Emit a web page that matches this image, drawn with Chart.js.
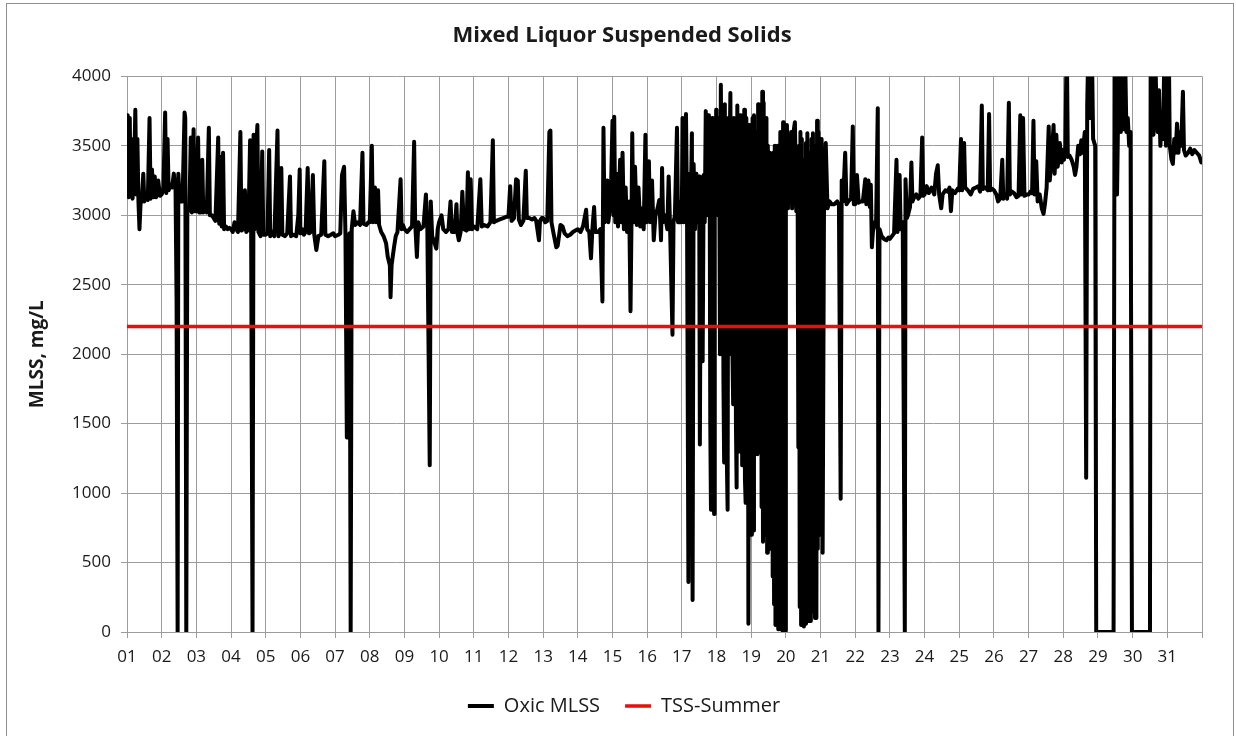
<!DOCTYPE html>
<html>
<head>
<meta charset="utf-8">
<title>Mixed Liquor Suspended Solids</title>
<script src="https://cdn.jsdelivr.net/npm/chart.js@4.4.0/dist/chart.umd.min.js"></script>
<style>
  html, body { margin: 0; padding: 0; background: #fff; }
  #wrap { width: 1236px; height: 736px; }
</style>
</head>
<body>
<div id="wrap"><canvas id="mlssChart" width="1236" height="736"></canvas></div>
<script>
// chart text
const chartTitle = "Mixed Liquor Suspended Solids";
const yAxisTitle = "MLSS, mg/L";
const dayLabels = ["01","02","03","04","05","06","07","08","09","10","11","12","13","14","15","16",
  "17","18","19","20","21","22","23","24","25","26","27","28","29","30","31"];

// TSS-Summer limit, mg/L
const tssSummer = 2200;
const tssDays = [1, 32];

// sample time (day of month, fractional) and Oxic MLSS reading (mg/L)
const sampleDays = [
  1.00,1.02,1.05,1.08,1.10,1.13,1.16,1.20,1.24,1.27,1.30,1.33,1.36,1.39,1.43,1.47,1.50,1.55,1.60,1.65,1.68,1.72,1.76,1.80,1.84,1.90,1.95,
  2.00,2.05,2.10,2.13,2.17,2.20,2.25,2.30,2.35,2.40,2.43,2.46,2.48,2.52,2.60,2.66,2.68,2.71,2.74,2.80,2.84,2.87,2.92,2.95,
  3.00,3.05,3.08,3.13,3.17,3.20,3.25,3.30,3.36,3.39,3.45,3.50,3.55,3.63,3.66,3.70,3.73,3.77,3.80,3.85,3.90,3.95,
  4.00,4.05,4.10,4.15,4.20,4.27,4.30,4.35,4.40,4.44,4.50,4.55,4.58,4.62,4.65,4.68,4.72,4.76,4.79,4.85,4.90,4.93,
  5.00,5.05,5.10,5.13,5.20,5.25,5.34,5.37,5.45,5.48,5.55,5.62,5.70,5.73,5.80,5.88,5.94,5.98,
  6.00,6.05,6.10,6.15,6.21,6.25,6.30,6.36,6.40,6.46,6.52,6.60,6.69,6.72,6.80,6.88,6.95,
  7.00,7.10,7.15,7.20,7.26,7.30,7.34,7.37,7.42,7.45,7.48,7.53,7.58,7.65,7.72,7.79,7.82,7.90,7.96,
  8.00,8.06,8.09,8.15,8.18,8.24,8.27,8.33,8.40,8.47,8.52,8.58,8.60,8.63,8.70,8.75,8.80,8.89,8.92,8.96,
  9.00,9.08,9.15,9.22,9.28,9.31,9.36,9.40,9.46,9.55,9.62,9.66,9.73,9.76,9.80,9.87,9.92,9.96,
  10.00,10.07,10.12,10.20,10.27,10.33,10.37,10.45,10.50,10.53,10.57,10.62,10.67,10.72,10.79,10.83,10.86,10.91,10.95,
  11.00,11.10,11.19,11.23,11.30,11.40,11.48,11.55,11.58,11.65,11.75,11.85,11.95,
  12.00,12.05,12.09,12.16,12.22,12.27,12.30,12.36,12.43,12.50,12.53,12.60,12.68,12.75,12.80,12.88,12.91,12.96,
  13.00,13.06,13.12,13.18,13.21,13.24,13.30,13.38,13.42,13.50,13.56,13.62,13.70,13.78,13.86,13.93,
  14.00,14.08,14.15,14.24,14.27,14.33,14.38,14.42,14.47,14.50,14.58,14.65,14.71,14.74,14.77,14.85,14.88,14.95,
  15.00,15.03,15.05,15.08,15.12,15.16,15.22,15.25,15.29,15.33,15.38,15.42,15.48,15.52,15.55,15.57,15.60,15.65,15.70,15.75,15.80,15.86,15.90,15.95,15.98,
  16.00,16.05,16.08,16.14,16.19,16.24,16.30,16.35,16.40,16.43,16.46,16.52,16.58,16.62,16.66,16.73,16.76,16.80,16.86,16.89,16.93,16.97,
  17.00,17.02,17.05,17.08,17.12,17.15,17.19,17.22,17.25,17.29,17.31,17.34,17.38,17.42,17.46,17.50,17.52,17.55,17.58,17.60,17.63,17.66,17.69,17.72,17.76,
  17.78,17.80,17.82,17.84,17.85,17.86,17.875,17.89,17.905,17.92,17.93,17.945,17.96,17.975,17.99,
  18.00,18.025,18.05,18.075,18.10,18.125,18.15,18.175,
  18.20,18.22,18.24,18.26,18.28,18.30,18.32,18.34,18.36,18.38,
  18.40,18.42,18.44,18.46,18.48,18.50,18.52,18.54,18.56,18.58,
  18.60,18.62,18.64,18.66,18.68,18.70,18.72,18.74,18.76,18.78,
  18.80,18.82,18.84,18.86,18.88,18.90,18.92,18.94,18.96,18.98,
  19.00,19.02,19.04,19.06,19.08,19.10,19.12,19.14,19.16,19.18,
  19.20,19.22,19.24,19.26,19.28,19.30,19.32,19.34,19.36,19.38,
  19.40,19.42,19.44,19.46,19.48,19.50,19.52,19.54,19.56,19.58,
  19.60,19.62,19.64,19.66,19.68,19.70,19.72,19.74,19.76,19.78,
  19.80,19.82,19.84,19.86,19.88,19.90,19.92,19.94,19.96,19.98,
  20.00,20.03,20.06,20.09,20.12,20.15,20.18,20.22,20.26,20.30,20.34,
  20.36,20.38,20.40,20.42,20.44,20.46,20.48,20.50,20.52,20.54,
  20.56,20.58,20.60,20.62,20.64,20.66,20.68,20.70,20.72,20.74,
  20.76,20.78,20.80,20.82,20.84,20.86,20.88,20.90,20.92,20.94,
  20.96,20.98,
  21.00,21.03,21.06,21.10,21.15,21.20,21.26,21.32,21.40,21.48,21.53,21.58,21.61,21.65,21.71,21.75,21.80,21.88,21.93,21.96,
  22.00,22.05,22.10,22.15,22.22,22.29,22.32,22.38,22.42,22.45,22.48,22.51,22.56,22.60,22.65,22.67,22.70,22.76,22.83,22.90,22.96,
  23.00,23.06,23.12,23.19,23.22,23.28,23.31,23.37,23.43,23.45,23.49,23.52,23.58,23.62,23.65,23.70,23.76,23.82,23.88,23.93,23.96,
  24.00,24.06,24.12,24.20,24.28,24.33,24.38,24.42,24.48,24.52,24.60,24.67,24.72,24.76,24.80,24.88,24.95,
  25.00,25.05,25.08,25.14,25.17,25.25,25.33,25.40,25.48,25.55,25.60,25.65,25.68,25.75,25.82,25.86,25.89,25.95,
  26.00,26.07,26.12,26.18,26.24,26.27,26.32,26.38,26.43,26.46,26.52,26.58,26.65,26.71,26.76,26.79,26.84,26.88,26.95,
  27.00,27.05,27.10,27.14,27.17,27.22,27.26,27.32,27.38,27.43,27.47,27.52,27.58,27.61,27.66,27.72,27.75,27.80,27.84,27.90,27.95,27.98,
  28.02,28.06,28.10,28.13,28.18,28.24,28.30,28.34,28.38,28.43,28.48,28.52,28.56,28.62,28.66,28.69,28.73,28.77,28.82,28.86,28.92,28.95,
  29.20,29.45,29.48,29.52,29.55,29.58,29.62,29.66,29.70,29.74,29.78,29.82,29.86,29.90,29.94,29.98,30.25,30.50,
  30.52,30.56,30.60,30.64,30.68,30.72,30.76,30.80,30.84,30.88,30.92,30.96,
  31.00,31.04,31.07,31.12,31.16,31.20,31.24,31.28,31.32,31.36,31.40,31.45,31.48,31.53,31.60,31.66,31.72,31.78,31.85,31.92,31.98
];
const oxicMlss = [
  3150,3720,3130,3700,3200,3550,3120,3250,3760,3150,3550,3100,2900,3080,3120,3300,3100,3150,3110,3700,3120,3330,3130,3280,3130,3250,3140,
  3150,3200,3740,3160,3550,3180,3220,3200,3300,3180,2380,0,3300,3100,3100,3740,3700,0,3020,3050,3560,3020,3620,3030,
  3030,3560,3020,3020,3400,3020,3050,3020,3630,3000,3000,2980,2960,3560,2940,3420,2920,3450,2900,2920,2900,2910,
  2900,2880,2950,2900,2880,3600,2890,2900,3180,2880,2900,3540,2900,0,3580,2900,3450,3650,2880,2850,3460,2860,
  2860,2870,3470,2850,2880,2850,3610,2850,3340,2860,2850,2870,3280,2850,2860,2850,3000,3330,
  2870,2900,2860,2880,3340,2870,2880,3290,2860,2750,2850,2860,3390,2860,2850,2860,2870,
  2850,2860,2870,3290,3350,2860,1400,2850,2870,0,2900,3030,2930,2950,2930,3450,2940,2930,2950,
  2950,3500,2950,3200,2950,3180,2930,2880,2850,2800,2700,2640,2410,2640,2770,2850,2880,3260,2900,2930,
  2900,2880,2900,2920,3530,2950,2700,2950,2900,2920,3150,2930,1200,3100,2850,2800,2760,2900,
  2950,3000,2900,2880,2900,3100,2880,2880,3080,2870,2820,2880,3170,2900,2890,3310,2900,3260,2900,
  2920,2900,3260,2920,2930,2920,2950,3540,2950,2960,2970,2980,2990,
  2990,3210,2960,2980,3260,3250,2970,2930,2960,3320,2980,2980,2970,2980,2960,2820,2960,2980,
  2980,2950,2960,3600,3610,2950,2870,2770,2780,2930,2920,2870,2850,2860,2880,2890,
  2900,2880,2920,3040,2900,2880,2690,2900,3060,2880,2880,2900,2380,3630,2950,3250,2950,3100,
  3680,3000,3710,2950,3300,2920,3400,2950,3450,2900,3200,2880,3100,2310,3000,3590,2950,3350,2930,3200,2920,3050,2900,3580,2950,
  3000,3390,2950,3250,2820,3000,3050,3110,2820,3340,2950,3000,2900,3280,2920,2140,2950,3000,3630,2950,3100,2950,
  3000,3700,2950,3500,3730,3000,360,3300,2950,3590,230,3370,2900,3300,2950,3280,1350,3200,2900,1950,3290,2950,3750,3000,3720,
  3300,3650,1500,880,3600,1200,3700,3000,3500,1100,850,3600,3700,3100,3760,
  3300,3600,3000,3700,2000,3940,3000,3750,
  1800,1220,3800,1500,3600,1200,880,3700,2000,3500,
  3880,2500,3600,2000,1640,3700,2200,3500,1500,1040,
  3790,2000,3500,1300,3720,1700,3600,1200,3650,1600,
  3760,1100,930,3700,1500,3600,60,3650,2000,3500,
  3650,700,3700,730,3720,1500,3500,1300,3600,1280,
  3800,1400,3600,1300,3750,900,3890,650,3810,800,
  3600,700,3700,570,3500,800,3450,1000,3300,600,
  3400,400,3450,200,3500,50,3400,100,3500,20,
  3400,30,3600,20,3500,10,3670,20,3300,10,
  3200,3650,3050,3500,3100,3600,3050,3600,3670,3030,3100,
  1330,3500,180,3600,50,3550,50,3300,40,3400,
  60,3520,100,3590,200,3450,80,3400,80,3550,
  150,3590,300,3500,100,3450,100,3680,600,3600,
  700,3550,
  3100,3550,570,3100,3520,3050,3100,3080,3080,3100,3070,960,3250,3100,3450,3080,3100,3120,3640,3080,
  3080,3290,3090,3100,3100,3260,3080,3250,3060,3220,2770,2880,2950,2920,3770,0,2900,2850,2830,2820,2840,
  2830,2850,2870,3400,2880,3290,2900,2950,0,3260,2980,3000,3060,3380,3100,3130,3150,3120,3140,3560,3140,
  3150,3210,3160,3200,3150,3300,3360,3150,3050,3150,3180,3170,3200,3030,3180,3160,3190,
  3180,3550,3180,3520,3200,3180,3150,3190,3200,3210,3170,3790,3190,3200,3180,3730,3180,3190,
  3180,3150,3100,3120,3400,3120,3150,3120,3810,3150,3170,3160,3130,3140,3720,3150,3700,3140,3150,
  3150,3170,3160,3680,3150,3390,3100,3150,3050,3010,3080,3200,3640,3250,3400,3650,3300,3580,3350,3520,3380,3470,
  3400,3500,4300,3420,3430,3400,3350,3290,3350,3500,3440,3540,3450,3600,1110,3800,4300,3700,4300,3550,3500,0,
  0,0,4300,3600,3150,3700,4300,3600,4300,3620,4200,3600,3700,3500,3600,0,0,0,
  4300,3600,3580,4300,3850,3600,3900,3500,3700,3550,4300,3500,
  3600,4300,3500,3400,3370,3550,3450,3660,3450,3600,3500,3890,3470,3430,3450,3480,3440,3470,3450,3430,3380
];

if (sampleDays.length !== oxicMlss.length) {
  throw new Error("length mismatch: " + sampleDays.length + " days vs " + oxicMlss.length + " values");
}

const FONT = "'Open Sans', 'Liberation Sans', sans-serif";
const GRID = "#9c9c9c";
const TEXT = "#1a1a1a";

// white background and the thin grey chart frame
const chartFrame = {
  id: "chartFrame",
  beforeDraw(chart) {
    const c = chart.ctx;
    c.save();
    c.fillStyle = "#fff";
    c.fillRect(0, 0, chart.width, chart.height);
    c.strokeStyle = "#8f8f8f";
    c.lineWidth = 1;
    c.strokeRect(6.5, 3.5, chart.width - 9, chart.height + 10);
    c.restore();
  }
};

// title and legend sit a bit right of the canvas centre in the original
const blockShift = {
  id: "blockShift",
  afterLayout(chart) {
    chart.legend.left += 46;
    chart.titleBlock.left += 42;
  }
};

const ctx = document.getElementById("mlssChart").getContext("2d");
new Chart(ctx, {
  type: "line",
  data: {
    datasets: [
      {
        label: "TSS-Summer",
        data: tssDays.map((d) => ({ x: d, y: tssSummer })),
        borderColor: "#e3120b",
        backgroundColor: "#e3120b",
        borderWidth: 3.5,
        pointRadius: 0
      },
      {
        label: "Oxic MLSS",
        data: sampleDays.map((d, i) => ({ x: d, y: oxicMlss[i] })),
        borderColor: "#000",
        backgroundColor: "#000",
        borderWidth: 4,
        borderJoinStyle: "round",
        borderCapStyle: "round",
        pointRadius: 0,
        tension: 0
      }
    ]
  },
  options: {
    responsive: false,
    animation: false,
    events: [],
    layout: { padding: { left: 0, right: 34, top: 0, bottom: 10 } },
    plugins: {
      title: {
        display: true,
        text: chartTitle,
        color: TEXT,
        font: { family: FONT, size: 22, weight: "bold" },
        padding: { top: 23, bottom: 27 }
      },
      legend: {
        position: "bottom",
        reverse: true,
        labels: {
          usePointStyle: true,
          pointStyle: "line",
          pointStyleWidth: 26,
          color: TEXT,
          font: { family: FONT, size: 20 },
          padding: 25
        }
      },
      tooltip: { enabled: false }
    },
    scales: {
      x: {
        type: "linear",
        min: 1,
        max: 32,
        afterFit: (scale) => { scale.height = 39; },
        ticks: {
          stepSize: 1,
          autoSkip: false,
          maxRotation: 0,
          padding: 9,
          color: TEXT,
          font: { family: FONT, size: 17 },
          callback: (v) => dayLabels[v - 1] || ""
        },
        grid: { color: GRID, lineWidth: 1, tickLength: 6 },
        border: { color: GRID }
      },
      y: {
        min: 0,
        max: 4000,
        afterFit: (scale) => { scale.width = 127; },
        ticks: {
          stepSize: 500,
          padding: 10,
          color: TEXT,
          font: { family: FONT, size: 17 },
          callback: (v) => String(v)
        },
        grid: { color: GRID, lineWidth: 1, tickLength: 6 },
        border: { color: GRID },
        title: {
          display: true,
          text: yAxisTitle,
          color: TEXT,
          font: { family: FONT, size: 19, weight: "bold" },
          padding: { top: 26, bottom: 0 }
        }
      }
    }
  },
  plugins: [chartFrame, blockShift]
});
</script>
</body>
</html>
